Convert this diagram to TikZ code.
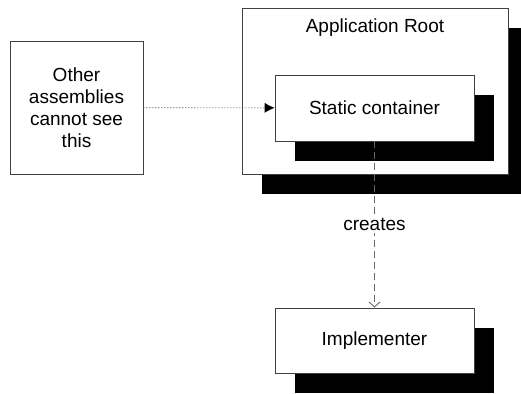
\documentclass[tikz,border=0pt]{standalone}
\usepackage{fontspec}
\setmainfont{Liberation Sans}
\usetikzlibrary{arrows.meta,positioning,shadows}

\begin{document}
\begin{tikzpicture}[
  x=1pt, y=-1pt,
  every node/.style={font=\fontsize{19}{22}\selectfont},
  box/.style={draw=black!75, fill=white, line width=0.9pt, align=center, inner sep=0pt},
  shad/.style={general shadow={fill=black, shadow xshift=20pt, shadow yshift=-20pt}},
  dots/.style={draw=black!60, line width=0.9pt, dash pattern=on 1pt off 2pt,
               -{Latex[length=10pt,width=10pt,black,line width=0pt]}},
  crt/.style={draw=black!60, line width=0.9pt, dash pattern=on 7pt off 4pt,
              -{Straight Barb[length=5pt,width=11pt,black!60]}}
]
\useasboundingbox (0,0) rectangle (521,393);
\clip (0,0) rectangle (521,393);

\node[box, minimum width=133pt, minimum height=133pt] (others) at (76.5,107.5) {Other\\assemblies\\cannot see\\this};
\node[box, shad, minimum width=266pt, minimum height=166pt] (root) at (375,91) {};
\node (rootlbl) at (375,28) {Application Root};
\node[box, shad, minimum width=199pt, minimum height=66pt] (static) at (374.5,108) {Static container};
\node[box, shad, minimum width=199pt, minimum height=65pt] (impl) at (374.5,340.5) {Implementer};

\draw[dots] (others) -- (static);
\draw[crt] (static.south) -- node[fill=white, inner sep=2pt] (crlbl) {creates} (impl.north);
\end{tikzpicture}
\end{document}
